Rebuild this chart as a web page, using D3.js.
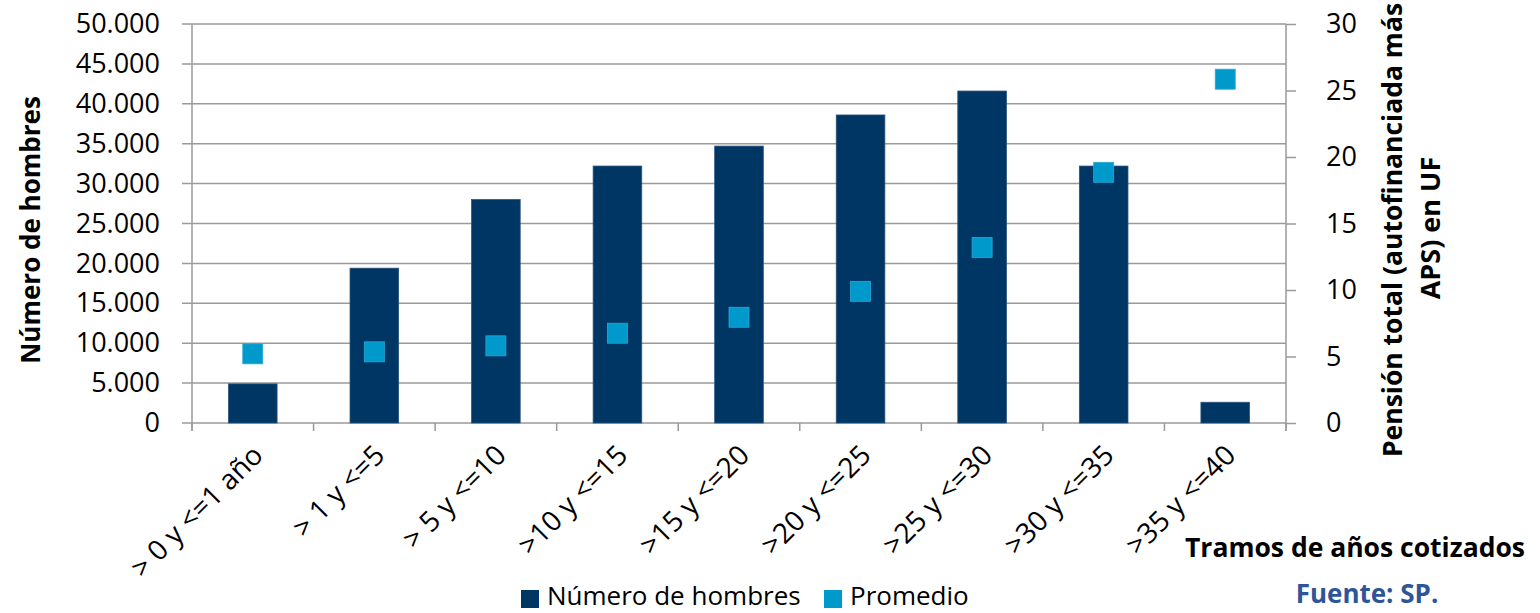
<!DOCTYPE html>
<html>
<head>
<meta charset="utf-8">
<script src="https://cdn.jsdelivr.net/npm/d3@7"></script>
<style>
  body { margin: 0; background: #fff; }
  text { font-family: "Open Sans", sans-serif; fill: #000; }
</style>
</head>
<body>
<div class="chart"></div>
<script>
// chart data
let tramos = ["> 0 y <=1 año", "> 1 y <=5", "> 5 y <=10", ">10 y <=15", ">15 y <=20",
              ">20 y <=25", ">25 y <=30", ">30 y <=35", ">35 y <=40"];
let hombres = [4900, 19400, 28000, 32200, 34700, 38600, 41600, 32200, 2600];
let promedio = [5.2, 5.35, 5.8, 6.75, 7.95, 9.9, 13.2, 18.85, 25.85];
let leftTicks = [0, 5000, 10000, 15000, 20000, 25000, 30000, 35000, 40000, 45000, 50000];
let rightTicks = [0, 5, 10, 15, 20, 25, 30];

let svgWidth = 1540;
let svgHeight = 613;

let margin = { top: 24, right: 254, bottom: 190, left: 192 };
let width = svgWidth - margin.left - margin.right;
let height = svgHeight - margin.top - margin.bottom;

let barColor = "#003663";
let dotColor = "#0099cc";
let gridColor = "#9a9a9a";

var svg = d3.select(".chart")
  .append("svg")
  .attr("width", svgWidth)
  .attr("height", svgHeight);

var chartGroup = svg.append("g")
  .attr("transform", `translate(${margin.left}, ${margin.top})`);

let xScale = d3.scaleBand()
  .domain(tramos)
  .range([0, width])
  .paddingInner(0.6)
  .paddingOuter(0.3);

let yLeft = d3.scaleLinear().domain([0, 50000]).range([height, 0]);
let yRight = d3.scaleLinear().domain([0, 30]).range([height, 0]);

let fmt = d => d === 0 ? "0" : d3.format(",")(d).replace(/,/g, ".");

// gridlines
chartGroup.append("g")
  .selectAll("line")
  .data(leftTicks)
  .enter()
  .append("line")
  .attr("x1", -10)
  .attr("x2", width)
  .attr("y1", d => yLeft(d))
  .attr("y2", d => yLeft(d))
  .attr("stroke", gridColor)
  .attr("stroke-width", 1.5);

// left axis
let leftAxis = d3.axisLeft(yLeft).tickValues(leftTicks).tickSize(0).tickPadding(32).tickFormat(fmt);
let lAx = chartGroup.append("g").call(leftAxis);
lAx.select(".domain").remove();
lAx.selectAll("text").attr("font-size", 27).attr("font-family", "Open Sans").attr("fill", "#000");

chartGroup.append("line")
  .attr("x1", 0).attr("x2", 0).attr("y1", 0).attr("y2", height + 8)
  .attr("stroke", gridColor).attr("stroke-width", 1.5);

// right axis
let rightAxis = d3.axisRight(yRight).tickValues(rightTicks).tickSize(10).tickPadding(30);
let rAx = chartGroup.append("g")
  .attr("transform", `translate(${width}, 0)`)
  .call(rightAxis);
rAx.select(".domain").attr("stroke", gridColor).attr("stroke-width", 1.5).attr("d", `M0,0V${height + 8}`);
rAx.selectAll("line").attr("stroke", gridColor).attr("stroke-width", 1.5);
rAx.selectAll("text").attr("font-size", 27).attr("font-family", "Open Sans").attr("fill", "#000");

// x axis ticks at category boundaries
let bounds = d3.range(tramos.length + 1).map(i => i * xScale.step());
chartGroup.append("g")
  .selectAll("line")
  .data(bounds)
  .enter()
  .append("line")
  .attr("x1", d => d).attr("x2", d => d)
  .attr("y1", height).attr("y2", height + 8)
  .attr("stroke", gridColor).attr("stroke-width", 1.5);

// bars
chartGroup.selectAll(".bar")
  .data(hombres)
  .enter()
  .append("rect")
  .attr("class", "bar")
  .attr("x", (d, i) => xScale(tramos[i]))
  .attr("y", d => yLeft(d))
  .attr("width", xScale.bandwidth())
  .attr("height", d => height - yLeft(d))
  .attr("fill", barColor)
  .attr("stroke", "#2a5580")
  .attr("stroke-width", 0.8);

// promedio squares
let sq = 20;
chartGroup.selectAll(".dot")
  .data(promedio)
  .enter()
  .append("rect")
  .attr("class", "dot")
  .attr("x", (d, i) => xScale(tramos[i]) + xScale.bandwidth() / 2 - sq / 2)
  .attr("y", d => yRight(d) - sq / 2)
  .attr("width", sq)
  .attr("height", sq)
  .attr("fill", dotColor)
  .attr("stroke", "#2aa8d6")
  .attr("stroke-width", 0.8);

// x labels rotated
chartGroup.append("g")
  .selectAll("text")
  .data(tramos)
  .enter()
  .append("text")
  .attr("transform", d => `translate(${xScale(d) + xScale.bandwidth() / 2 + 12}, ${height + 34}) rotate(-45)`)
  .attr("text-anchor", "end")
  .attr("font-size", 28)
  .text(d => d);

// axis titles
svg.append("text")
  .attr("transform", `translate(40, 230) rotate(-90)`)
  .attr("text-anchor", "middle")
  .attr("font-size", 26)
  .attr("font-weight", "bold")
  .text("Número de hombres");

svg.append("text")
  .attr("transform", `translate(1402, 230) rotate(-90)`)
  .attr("text-anchor", "middle")
  .attr("font-size", 26.5)
  .attr("font-weight", "bold")
  .text("Pensión total (autofinanciada más");

svg.append("text")
  .attr("transform", `translate(1440, 228) rotate(-90)`)
  .attr("text-anchor", "middle")
  .attr("font-size", 27)
  .attr("font-weight", "bold")
  .text("APS) en UF");

svg.append("text")
  .attr("x", 1525).attr("y", 557)
  .attr("text-anchor", "end")
  .attr("font-size", 26.5)
  .attr("font-weight", "bold")
  .text("Tramos de años cotizados");

svg.append("text")
  .attr("x", 1367).attr("y", 603)
  .attr("text-anchor", "middle")
  .attr("font-size", 26)
  .attr("font-weight", "bold")
  .style("fill", "#2e5597")
  .text("Fuente: SP.");

// legend
let legend = [
  { label: "Número de hombres", color: barColor, x: 521 },
  { label: "Promedio", color: dotColor, x: 824 }
];
let lg = svg.append("g").selectAll("g").data(legend).enter().append("g")
  .attr("transform", d => `translate(${d.x}, 590)`);
lg.append("rect").attr("width", 18).attr("height", 18).attr("fill", d => d.color);
lg.append("text").attr("x", 26).attr("y", 15).attr("font-size", 26).text(d => d.label);
</script>
</body>
</html>
